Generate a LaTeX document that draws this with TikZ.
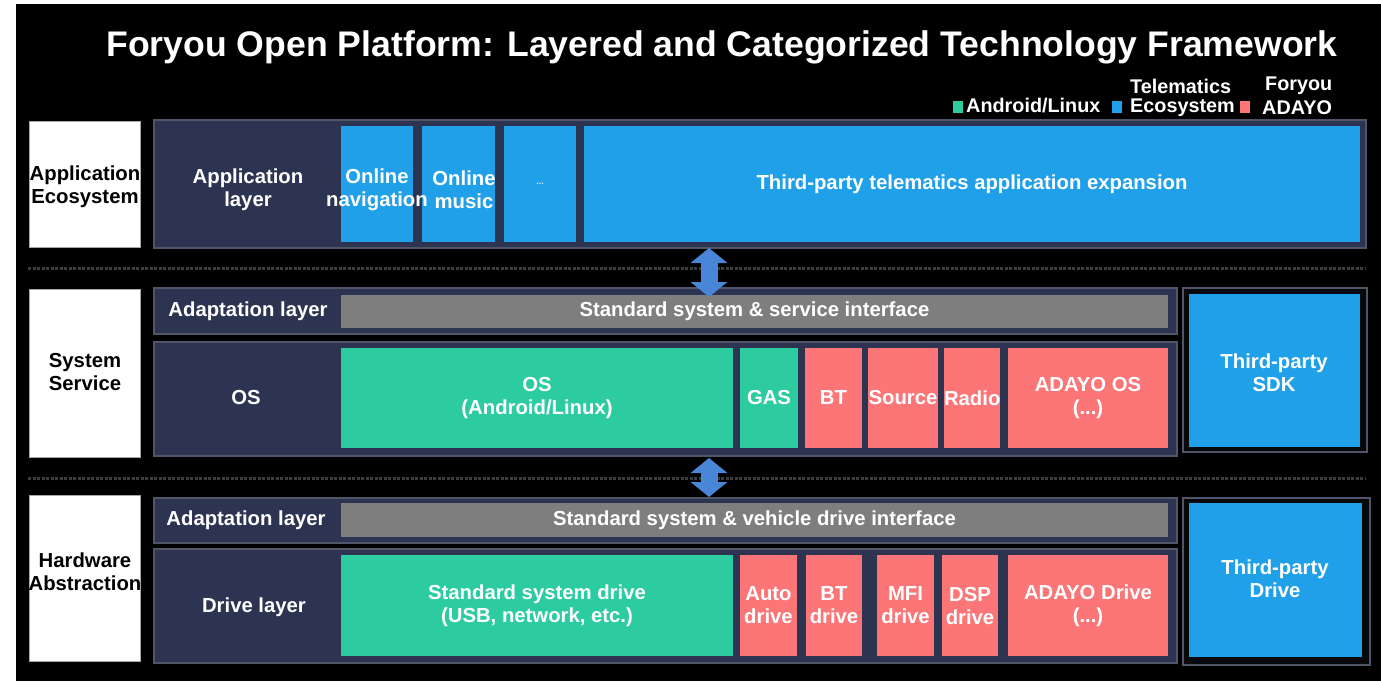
\documentclass[tikz,border=0pt]{standalone}
\usepackage{fontspec}
\setmainfont{Liberation Sans}
\usetikzlibrary{arrows.meta}
\definecolor{navy}{HTML}{2C3451}
\definecolor{cblue}{HTML}{21A0EA}
\definecolor{cgreen}{HTML}{2DCCA0}
\definecolor{cred}{HTML}{FC7577}
\definecolor{cgray}{HTML}{7E7E7E}
\definecolor{frame}{HTML}{505568}
\definecolor{sepc}{HTML}{3C3C3C}
\definecolor{arrowblue}{HTML}{4A86D8}
\newcommand{\txtfont}{\fontsize{20.3}{23}\selectfont\bfseries}
\begin{document}
\begin{tikzpicture}[x=1pt,y=-1pt,
  bx/.style={inner sep=0pt, outer sep=0pt, anchor=north west, align=center, text=white, font=\txtfont},
  lbl/.style={bx, fill=white, draw=gray!70, line width=1pt},
  cont/.style={bx, fill=navy, draw=frame, line width=2.5pt},
  tpframe/.style={bx, fill=black!85!navy, draw=frame, line width=2.5pt},
  txt/.style={inner sep=0pt, align=center, text=white, font=\txtfont},
  ltxt/.style={txt, text=black},
  sq/.style={inner sep=0pt, minimum width=10pt, minimum height=12pt},
  leg/.style={inner sep=0pt, anchor=west, text=white, font=\fontsize{19.8}{22}\selectfont\bfseries},
  sep/.style={draw=sepc, line width=3pt, dash pattern=on 3pt off 1.5pt},
  dbl/.style={draw=arrowblue, line width=17pt, {Triangle[width=36pt,length=15pt]}-{Triangle[width=36pt,length=15pt]}}
]
\useasboundingbox (0,0) rectangle (1381,681);
\fill[white] (0,0) rectangle (1381,681);
\fill[black] (16,4) rectangle (1381,681);

% title
\node[text=white, font=\fontsize{35.6}{40}\selectfont\bfseries, inner sep=0pt] (title) at (722,47) {Foryou Open Platform: Layered and Categorized Technology Framework};

% legend
\node[sq, fill=cgreen] (sqg) at (958,107) {};
\node[leg] (lgg) at (966,106) {Android/Linux};
\node[sq, fill=cblue] (sqb) at (1117,107) {};
\node[leg] (lgb1) at (1130,86) {Telematics};
\node[leg] (lgb2) at (1130,108) {Ecosystem};
\node[sq, fill=cred] (sqr) at (1245,107) {};
\node[leg] (lgr1) at (1265,86) {Foryou};
\node[leg] (lgr2) at (1262,108) {ADAYO};

% separators
\coordinate (s1a) at (28,268); \coordinate (s1b) at (1366,268);
\coordinate (s2a) at (28,478); \coordinate (s2b) at (1366,478);
\draw[sep] (s1a) -- (s1b);
\draw[sep] (s2a) -- (s2b);

% ===== Row 1 =====
\node[lbl, minimum width=111pt, minimum height=126pt] (lab1) at (29,121) {};
\node[ltxt] (lab1t) at (85,187) {Application\\Ecosystem};
\node[cont, minimum width=1212pt, minimum height=128pt] (c1) at (154,120) {};
\node[txt] (al) at (248,190) {Application\\layer};
\node[bx, fill=cblue, minimum width=72pt, minimum height=116pt] (nav) at (341,126) {};
\node[bx, fill=cblue, minimum width=73pt, minimum height=116pt] (mus) at (422,126) {};
\node[bx, fill=cblue, minimum width=72pt, minimum height=116pt, text=white!75!cblue, font=\fontsize{9}{10}\selectfont\bfseries] (dots) at (504,126) {...};
\node[bx, fill=cblue, minimum width=776pt, minimum height=116pt] (tpa) at (584,126) {Third-party telematics application expansion};
\node[txt] (navt) at (377,190) {Online\\navigation};
\node[txt] (must) at (464,190) {Online\\music};

% ===== Row 2 =====
\node[lbl, minimum width=111pt, minimum height=168pt] (lab2) at (29,289) {};
\node[ltxt] (lab2t) at (85,372) {System\\Service};
\node[cont, minimum width=1023pt, minimum height=46pt] (ad2) at (154,288) {};
\node[txt] (ad2t) at (248,311) {Adaptation layer};
\node[bx, fill=cgray, minimum width=827pt, minimum height=33pt] (ssi) at (341,295) {Standard system \& service interface};
\node[cont, minimum width=1023pt, minimum height=114pt] (os) at (154,342) {};
\node[txt] (ost) at (246,398) {OS};
\node[bx, fill=cgreen, minimum width=392pt, minimum height=100pt] (osal) at (341,348) {OS\\(Android/Linux)};
\node[bx, fill=cgreen, minimum width=58pt, minimum height=100pt] (gas) at (740,348) {GAS};
\node[bx, fill=cred, minimum width=57pt, minimum height=100pt] (bt) at (805,348) {BT};
\node[bx, fill=cred, minimum width=70pt, minimum height=100pt] (src) at (868,348) {Source};
\node[bx, fill=cred, minimum width=56pt, minimum height=100pt] (rad) at (944,348) {Radio};
\node[bx, fill=cred, minimum width=160pt, minimum height=100pt] (aos) at (1008,348) {ADAYO OS\\(...)};
\node[tpframe, minimum width=184pt, minimum height=164pt] (sdkf) at (1183,288) {};
\node[bx, fill=cblue, minimum width=171pt, minimum height=153pt] (sdk) at (1189,294) {};
\node[txt] (sdkt) at (1274,373) {Third-party\\SDK};

% ===== Row 3 =====
\node[lbl, minimum width=111pt, minimum height=166pt] (lab3) at (29,495) {};
\node[ltxt] (lab3t) at (85,572) {Hardware\\Abstraction};
\node[cont, minimum width=1023pt, minimum height=45pt] (ad3) at (154,498) {};
\node[txt] (ad3t) at (246,520) {Adaptation layer};
\node[bx, fill=cgray, minimum width=827pt, minimum height=34pt] (svd) at (341,503) {Standard system \& vehicle drive interface};
\node[cont, minimum width=1023pt, minimum height=114pt] (dr) at (154,549) {};
\node[txt] (drt) at (254,607) {Drive layer};
\node[bx, fill=cgreen, minimum width=392pt, minimum height=101pt] (ssd) at (341,555) {Standard system drive\\(USB, network, etc.)};
\node[bx, fill=cred, minimum width=57pt, minimum height=101pt] (auto) at (740,555) {Auto\\drive};
\node[bx, fill=cred, minimum width=56pt, minimum height=101pt] (btd) at (806,555) {BT\\drive};
\node[bx, fill=cred, minimum width=57pt, minimum height=101pt] (mfi) at (877,555) {MFI\\drive};
\node[bx, fill=cred, minimum width=56pt, minimum height=101pt] (dsp) at (942,555) {DSP\\drive};
\node[bx, fill=cred, minimum width=160pt, minimum height=101pt] (ado) at (1008,555) {ADAYO Drive\\(...)};
\node[tpframe, minimum width=187pt, minimum height=167pt] (tpdf) at (1183,498) {};
\node[bx, fill=cblue, minimum width=173pt, minimum height=154pt] (tpd) at (1189,503) {};
\node[txt] (tpdt) at (1275,579) {Third-party\\Drive};

% arrows
\coordinate (a1t) at (709,248); \coordinate (a1b) at (709,297);
\coordinate (a2t) at (709,458); \coordinate (a2b) at (709,497);
\draw[dbl] (a1t) -- (a1b);
\draw[dbl] (a2t) -- (a2b);
\end{tikzpicture}
\end{document}
